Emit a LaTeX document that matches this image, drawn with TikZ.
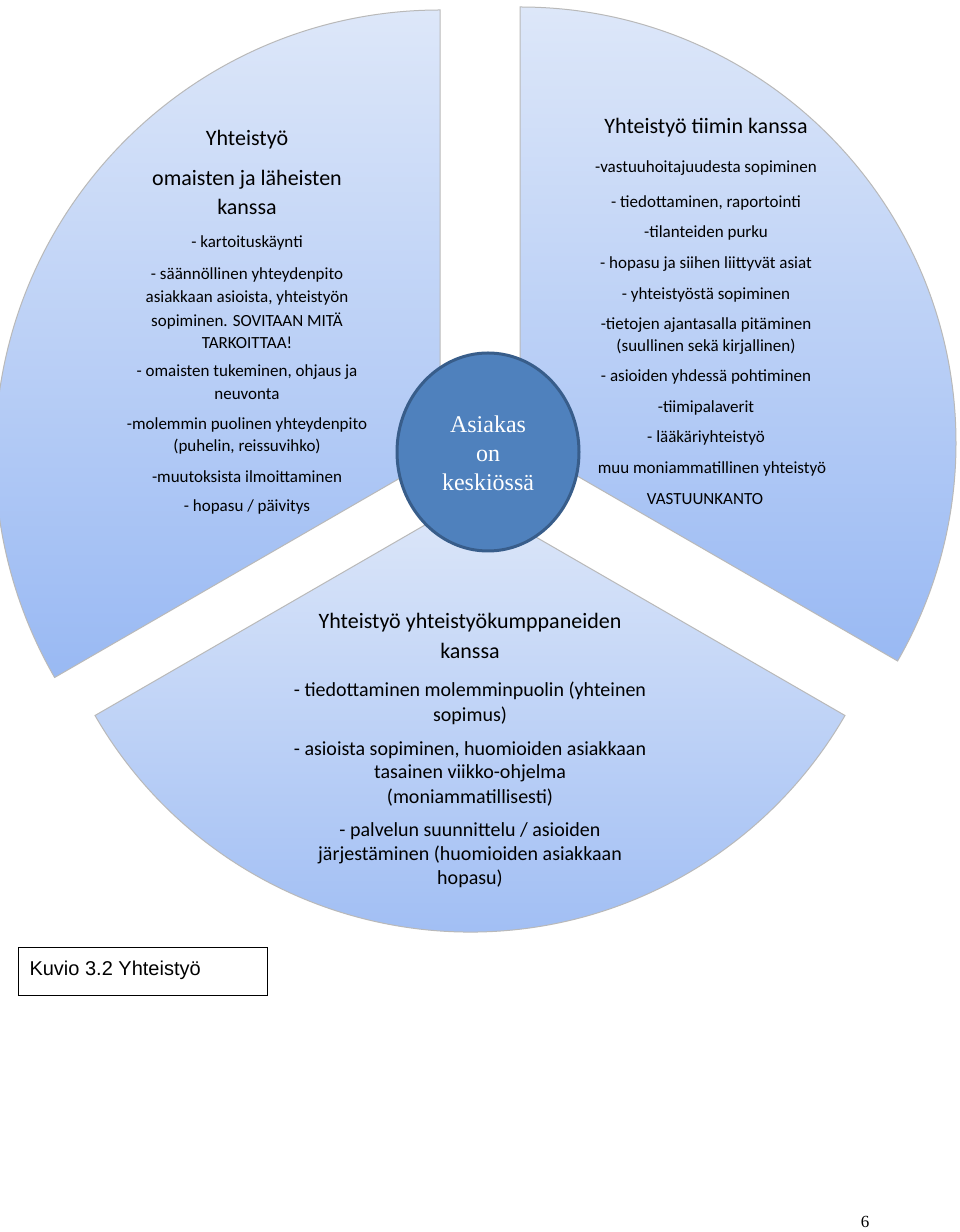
\documentclass[tikz,border=0pt]{standalone}
\usepackage{fontspec}
\setmainfont{Carlito}
\newfontfamily\arialf{Liberation Sans}
\newfontfamily\serf{Liberation Serif}
\begin{document}
\begin{tikzpicture}[x=1pt,y=1pt,
  sector/.style={top color=secTop,bottom color=secBot,draw=gray!55,line width=1pt},
  tt/.style={font=\fontsize{22}{26}\selectfont,inner sep=0pt},
  it/.style={font=\fontsize{17}{20}\selectfont,inner sep=0pt},
  bt/.style={font=\fontsize{20}{24}\selectfont,inner sep=0pt}]
\definecolor{secTop}{HTML}{DDE7F9}
\definecolor{secBot}{HTML}{99B9F3}
\definecolor{hub}{HTML}{4F81BD}
\definecolor{hubline}{HTML}{385D8A}
\useasboundingbox (0,0) rectangle (960,1232);
\fill[white] (0,0) rectangle (960,1232);
% sectors
\path[sector] (440,777) -- ++(90:445) arc[start angle=90,end angle=210,radius=445] -- cycle;
\path[sector] (520,789) -- ++(90:436) arc[start angle=90,end angle=-30,radius=436] -- cycle;
\path[sector] (470,733) -- ++(210:433) arc[start angle=210,end angle=330,radius=433] -- cycle;
% left texts
\node[tt] (l1) at (247,1092) {Yhteistyö};
\node[tt] (l2) at (247,1052) {omaisten ja läheisten};
\node[tt] (l3) at (247,1025) {kanssa};
\node[it] (l4) at (247,989) {- kartoituskäynti};
\node[it] (l5) at (247,957) {- säännöllinen yhteydenpito};
\node[it] (l6) at (247,934) {asiakkaan asioista, yhteistyön};
\node[it] (l7) at (247,911) {sopiminen. SOVITAAN MITÄ};
\node[it] (l8) at (247,889) {TARKOITTAA!};
\node[it] (l9) at (247,860) {- omaisten tukeminen, ohjaus ja};
\node[it] (l10) at (247,838) {neuvonta};
\node[it] (l11) at (247,807) {-molemmin puolinen yhteydenpito};
\node[it] (l12) at (247,785) {(puhelin, reissuvihko)};
\node[it] (l13) at (247,755) {-muutoksista ilmoittaminen};
\node[it] (l14) at (247,725) {- hopasu / päivitys};
% right texts
\node[tt] (r1) at (706,1104) {Yhteistyö tiimin kanssa};
\node[it] (r2) at (706,1064) {-vastuuhoitajuudesta sopiminen};
\node[it] (r3) at (706,1029) {- tiedottaminen, raportointi};
\node[it] (r4) at (706,999) {-tilanteiden purku};
\node[it] (r5) at (706,968) {- hopasu ja siihen liittyvät asiat};
\node[it] (r6) at (706,937) {- yhteistyöstä sopiminen};
\node[it] (r7) at (706,907) {-tietojen ajantasalla pitäminen};
\node[it] (r8) at (706,885) {(suullinen sekä kirjallinen)};
\node[it] (r9) at (706,855) {- asioiden yhdessä pohtiminen};
\node[it] (r10) at (706,824) {-tiimipalaverit};
\node[it] (r11) at (706,794) {- lääkäriyhteistyö};
\node[it] (r12) at (712,763) {muu moniammatillinen yhteistyö};
\node[it] (r13) at (705,733) {VASTUUNKANTO};
% bottom texts
\node[tt] (b1) at (470,609) {Yhteistyö yhteistyökumppaneiden};
\node[tt] (b2) at (470,581) {kanssa};
\node[bt] (b3) at (470,541) {- tiedottaminen molemminpuolin (yhteinen};
\node[bt] (b4) at (470,516) {sopimus)};
\node[bt] (b5) at (470,482) {- asioista sopiminen, huomioiden asiakkaan};
\node[bt] (b6) at (470,459) {tasainen viikko-ohjelma};
\node[bt] (b7) at (470,434) {(moniammatillisesti)};
\node[bt] (b8) at (470,401) {- palvelun suunnittelu / asioiden};
\node[bt] (b9) at (470,377) {järjestäminen (huomioiden asiakkaan};
\node[bt] (b10) at (470,353) {hopasu)};
% hub
\draw[fill=hub,draw=hubline,line width=3pt] (488,780) ellipse[x radius=91,y radius=99];
\node[font=\serf\fontsize{24}{29}\selectfont,text=white,align=center] (hubtext) at (488,779) {Asiakas\\on\\keskiössä};
% caption
\node[draw=black,line width=1pt,minimum width=249pt,minimum height=48pt,anchor=south west,inner sep=0pt] (cap) at (18,236) {};
\node[font=\arialf\fontsize{20}{24}\selectfont,anchor=west] (captext) at (26,262) {Kuvio 3.2 Yhteistyö};
\node[font=\serf\fontsize{17}{20}\selectfont] (pg) at (865,10) {6};
\end{tikzpicture}
\end{document}
